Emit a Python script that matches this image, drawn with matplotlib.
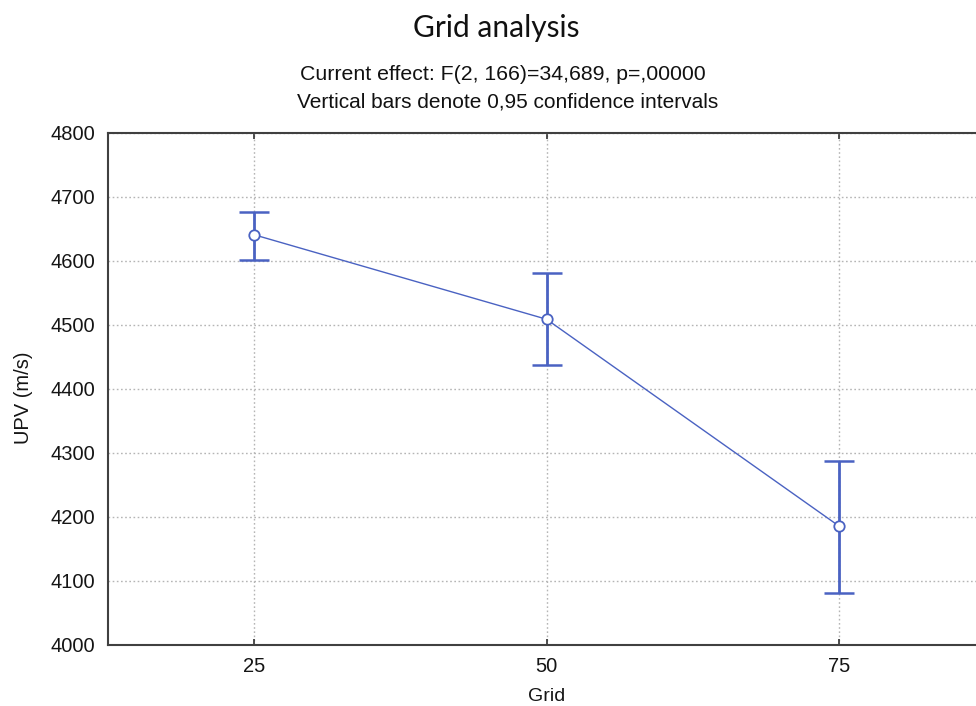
import matplotlib
matplotlib.use("Agg")
import matplotlib.pyplot as plt
import numpy as np

grid_levels = ["25", "50", "75"]
upv_mean = [4641, 4509, 4186]
ci_upper = [4677, 4581, 4287]
ci_lower = [4602, 4437, 4081]
y_ticks = [4000, 4100, 4200, 4300, 4400, 4500, 4600, 4700, 4800]

blue = "#4a62c2"
fig = plt.figure(figsize=(9.76, 7.06), dpi=100)
# axes extends slightly past the right edge as in the reference
ax = fig.add_axes([108/976, 1 - 645/706, (985 - 108)/976, (645 - 133)/706])

x = np.arange(1, len(grid_levels) + 1)
mean = np.array(upv_mean)
err = [mean - np.array(ci_lower), np.array(ci_upper) - mean]

ax.plot(x, mean, color=blue, lw=1.0, zorder=3)
ax.errorbar(x, mean, yerr=err, fmt="none", ecolor=blue, elinewidth=2.0,
            capsize=10.5, capthick=1.8, zorder=3)
ax.plot(x, mean, "o", mfc="white", mec=blue, mew=1.3, ms=7.5, zorder=4)

ax.set_xlim(0.5, 3.5)
ax.set_ylim(4000, 4800)
ax.set_xticks(x)
ax.set_xticklabels(grid_levels)
ax.set_yticks(y_ticks)
ax.grid(True, color="#b5b5b5", linestyle=(0, (1.2, 1.8)), lw=1.0)
ax.set_axisbelow(True)

for s in ["left", "top", "bottom", "right"]:
    ax.spines[s].set_color("#404040")
    ax.spines[s].set_linewidth(1.5)

font = "Liberation Sans"
ax.tick_params(axis="x", direction="in", length=4, width=1.2, top=True,
               labelsize=14.5, pad=9, colors="#303030")
ax.tick_params(axis="y", direction="in", length=0, labelsize=14.5, pad=9,
               colors="#303030")
for lab in ax.get_xticklabels() + ax.get_yticklabels():
    lab.set_fontfamily(font)
    lab.set_color("#151515")

ax.set_xlabel("Grid", fontsize=14, family=font, color="#151515", labelpad=8)
ax.set_ylabel("UPV (m/s)", fontsize=14.5, family=font, color="#151515")
ax.yaxis.set_label_coords(-0.085, 0.482)

fig.text(496/976, 1 - 28/706, "Grid analysis", ha="center", va="center",
         fontsize=21.5, family="Lato", color="#111111")
fig.text(503/976, 1 - 75/706, "Current effect: F(2, 166)=34,689, p=,00000",
         ha="center", va="center", fontsize=15.3, family=font, color="#111111")
fig.text(508/976, 1 - 102/706, "Vertical bars denote 0,95 confidence intervals",
         ha="center", va="center", fontsize=15, family=font, color="#111111")

fig.savefig("out.png", dpi=100)
